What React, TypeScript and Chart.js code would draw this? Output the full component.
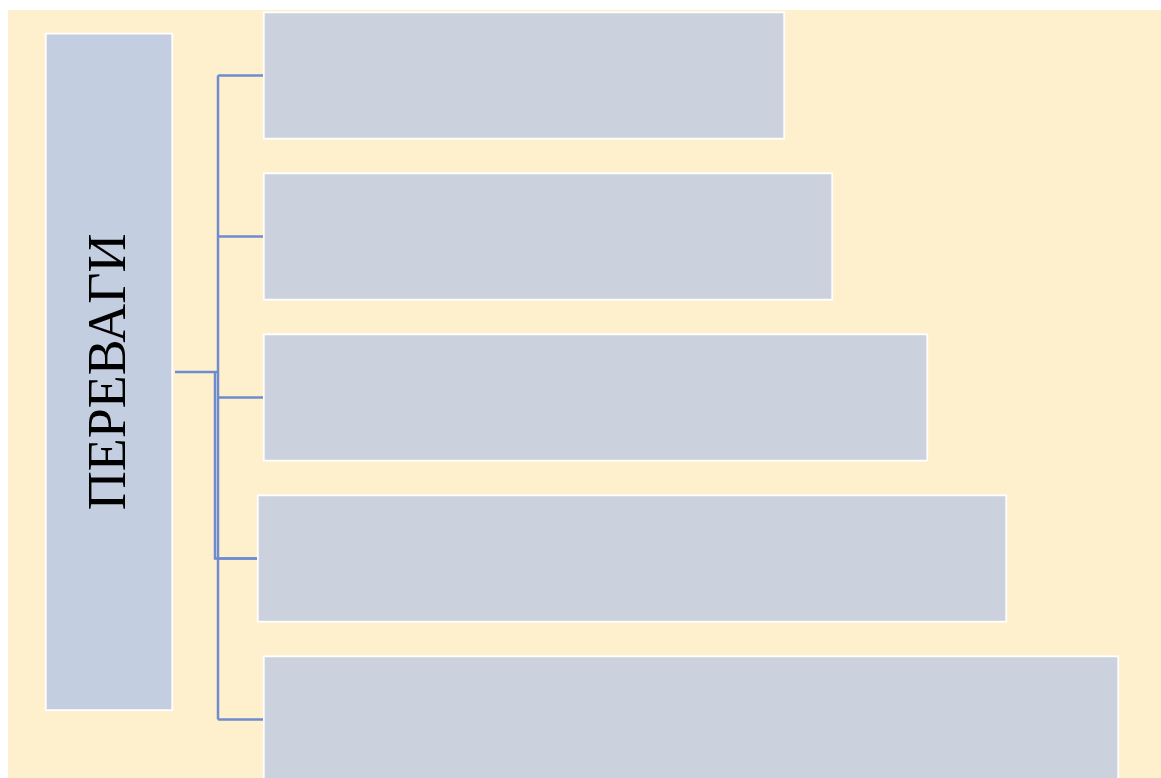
import React, { useEffect, useRef } from "react";
import { Chart, registerables } from "chart.js";

Chart.register(...registerables);

// Diagram content
const headerLabel = "ПЕРЕВАГИ";
const rows = [0, 1, 2, 3, 4];
const barStarts = [263, 263, 263, 257, 263];
const barEnds = [785, 833, 928, 1007, 1119];
const headerSpan = [45, 173];
const headerRow = 1.841;
const trunkX = 218;
const linkX = 215;
const linkRow = 3;

const CANVAS_W = 1180;
const CANVAS_H = 790;
const ROW0 = 65.5; // canvas y of first row centre
const ROW_STEP = 161;

export default function App() {
  const ref = useRef<HTMLCanvasElement | null>(null);

  useEffect(() => {
    const canvas = ref.current;
    if (!canvas) return;

    const lineStyle = {
      type: "line" as const,
      borderColor: "#6F8BCF",
      borderWidth: 2.5,
      pointRadius: 0,
      pointHoverRadius: 0,
      fill: false,
      tension: 0,
    };

    const segments: { x: number; y: number }[][] = [];
    segments.push([
      { x: trunkX, y: rows[0] },
      { x: trunkX, y: rows[rows.length - 1] },
    ]);
    rows.forEach((r, i) => {
      segments.push([
        { x: trunkX, y: r },
        { x: barStarts[i], y: r },
      ]);
    });
    segments.push([
      { x: headerSpan[1] + 2, y: headerRow },
      { x: trunkX - 1, y: headerRow },
    ]);
    segments.push([
      { x: linkX, y: headerRow },
      { x: linkX, y: linkRow },
      { x: barStarts[linkRow], y: linkRow },
    ]);

    const bgPlugin = {
      id: "bg",
      beforeDraw(chart: any) {
        const c = chart.ctx;
        c.save();
        c.fillStyle = "#FFF0CD";
        c.fillRect(0, 0, chart.width, chart.height);
        c.restore();
      },
    };

    const labelPlugin = {
      id: "headerLabel",
      afterDatasetsDraw(chart: any) {
        const meta = chart.getDatasetMeta(1);
        const el = meta.data[0];
        if (!el) return;
        const props = el.getProps(["x", "y", "base"], true);
        const cx = (props.x + props.base) / 2;
        const cy = props.y;
        const size = 54;
        const c = chart.ctx;
        c.save();
        c.translate(cx, cy);
        c.rotate(-Math.PI / 2);
        c.font = `${size}px "Liberation Serif", "Times New Roman", serif`;
        c.fillStyle = "#000000";
        c.textAlign = "center";
        c.textBaseline = "alphabetic";
        c.fillText(headerLabel, 0, size * 0.3);
        c.restore();
      },
    };

    const chart = new Chart(canvas, {
      type: "bar",
      data: {
        datasets: [
          {
            type: "bar",
            data: rows.map((r, i) => ({ y: r, x: [barStarts[i], barEnds[i]] })) as any,
            backgroundColor: "#CBD2DE",
            borderColor: "#FFFFFF",
            borderWidth: 2,
            borderSkipped: false,
            barThickness: 128,
            grouped: false,
            order: 1,
          } as any,
          {
            type: "bar",
            data: [{ y: headerRow, x: headerSpan }] as any,
            backgroundColor: "#C3CEE1",
            borderColor: "#FFFFFF",
            borderWidth: 2,
            borderSkipped: false,
            barThickness: 678,
            grouped: false,
            order: 1,
          } as any,
          ...segments.map((seg) => ({ ...lineStyle, data: seg, order: 0 } as any)),
        ],
      },
      options: {
        indexAxis: "y",
        responsive: false,
        animation: false,
        devicePixelRatio: 1,
        layout: { padding: 0 },
        plugins: {
          legend: { display: false },
          tooltip: { enabled: false },
        },
        events: [],
        scales: {
          x: { type: "linear", min: 8, max: 8 + CANVAS_W, display: false, offset: false },
          y: {
            type: "linear",
            min: -ROW0 / ROW_STEP,
            max: (CANVAS_H - ROW0) / ROW_STEP,
            reverse: true,
            display: false,
            offset: false,
          },
        },
      } as any,
      plugins: [bgPlugin, labelPlugin],
    });

    return () => chart.destroy();
  }, []);

  return (
    <div
      style={{
        position: "fixed",
        left: 8,
        top: 10,
        width: CANVAS_W,
        height: CANVAS_H,
        overflow: "hidden",
      }}
    >
      <canvas
        ref={ref}
        width={CANVAS_W}
        height={CANVAS_H}
        style={{ display: "block", width: CANVAS_W, height: CANVAS_H }}
      />
    </div>
  );
}
